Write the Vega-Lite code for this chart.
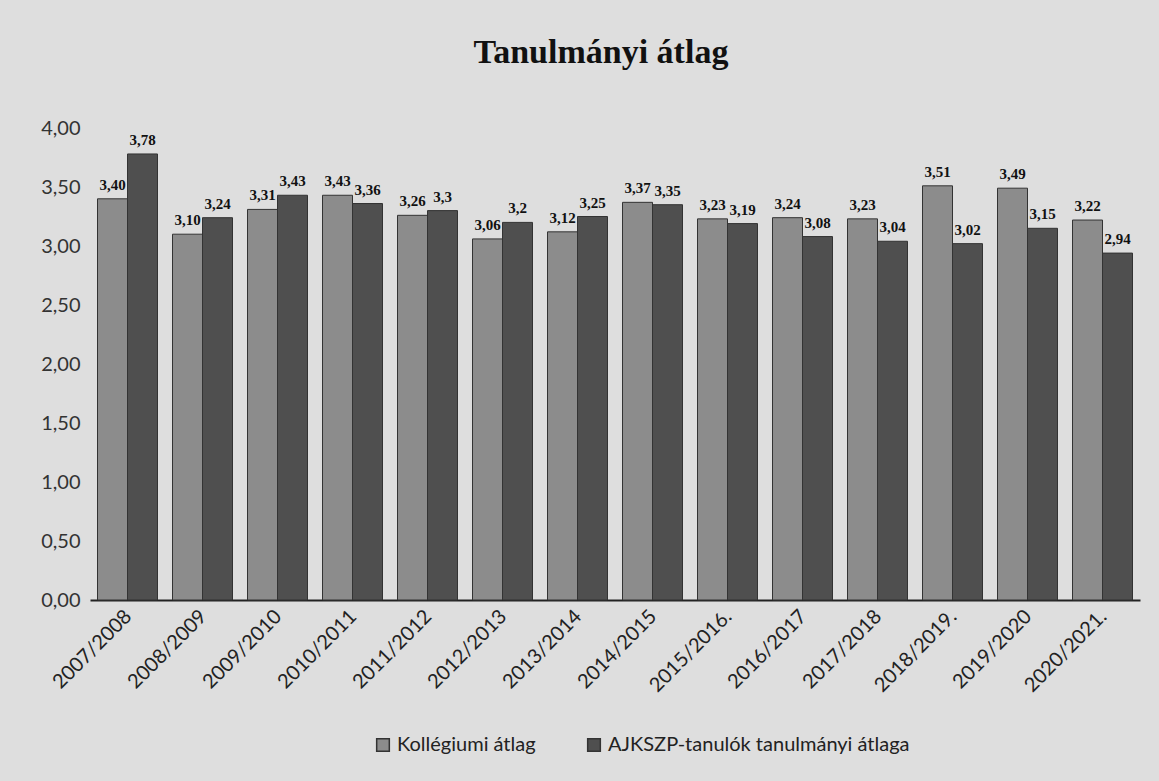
{
  "$schema": "https://vega.github.io/schema/vega-lite/v6.json",
  "width": 1050,
  "height": 472,
  "autosize": {"type": "none"},
  "padding": {"left": 90, "top": 128, "right": 19, "bottom": 181},
  "background": "#dedede",
  "title": {
    "text": "Tanulmányi átlag",
    "font": "Liberation Serif",
    "fontSize": 34,
    "fontWeight": "bold",
    "color": "#111111",
    "anchor": "middle",
    "offset": 48,
    "dx": -14
  },
  "data": {
    "values": [
      {"ev": "2007/2008", "sorozat": "Kollégiumi átlag", "ertek": 3.40, "cimke": "3,40"},
      {"ev": "2007/2008", "sorozat": "AJKSZP-tanulók tanulmányi átlaga", "ertek": 3.78, "cimke": "3,78"},
      {"ev": "2008/2009", "sorozat": "Kollégiumi átlag", "ertek": 3.10, "cimke": "3,10"},
      {"ev": "2008/2009", "sorozat": "AJKSZP-tanulók tanulmányi átlaga", "ertek": 3.24, "cimke": "3,24"},
      {"ev": "2009/2010", "sorozat": "Kollégiumi átlag", "ertek": 3.31, "cimke": "3,31"},
      {"ev": "2009/2010", "sorozat": "AJKSZP-tanulók tanulmányi átlaga", "ertek": 3.43, "cimke": "3,43"},
      {"ev": "2010/2011", "sorozat": "Kollégiumi átlag", "ertek": 3.43, "cimke": "3,43"},
      {"ev": "2010/2011", "sorozat": "AJKSZP-tanulók tanulmányi átlaga", "ertek": 3.36, "cimke": "3,36"},
      {"ev": "2011/2012", "sorozat": "Kollégiumi átlag", "ertek": 3.26, "cimke": "3,26"},
      {"ev": "2011/2012", "sorozat": "AJKSZP-tanulók tanulmányi átlaga", "ertek": 3.30, "cimke": "3,3"},
      {"ev": "2012/2013", "sorozat": "Kollégiumi átlag", "ertek": 3.06, "cimke": "3,06"},
      {"ev": "2012/2013", "sorozat": "AJKSZP-tanulók tanulmányi átlaga", "ertek": 3.20, "cimke": "3,2"},
      {"ev": "2013/2014", "sorozat": "Kollégiumi átlag", "ertek": 3.12, "cimke": "3,12"},
      {"ev": "2013/2014", "sorozat": "AJKSZP-tanulók tanulmányi átlaga", "ertek": 3.25, "cimke": "3,25"},
      {"ev": "2014/2015", "sorozat": "Kollégiumi átlag", "ertek": 3.37, "cimke": "3,37"},
      {"ev": "2014/2015", "sorozat": "AJKSZP-tanulók tanulmányi átlaga", "ertek": 3.35, "cimke": "3,35"},
      {"ev": "2015/2016.", "sorozat": "Kollégiumi átlag", "ertek": 3.23, "cimke": "3,23"},
      {"ev": "2015/2016.", "sorozat": "AJKSZP-tanulók tanulmányi átlaga", "ertek": 3.19, "cimke": "3,19"},
      {"ev": "2016/2017", "sorozat": "Kollégiumi átlag", "ertek": 3.24, "cimke": "3,24"},
      {"ev": "2016/2017", "sorozat": "AJKSZP-tanulók tanulmányi átlaga", "ertek": 3.08, "cimke": "3,08"},
      {"ev": "2017/2018", "sorozat": "Kollégiumi átlag", "ertek": 3.23, "cimke": "3,23"},
      {"ev": "2017/2018", "sorozat": "AJKSZP-tanulók tanulmányi átlaga", "ertek": 3.04, "cimke": "3,04"},
      {"ev": "2018/2019.", "sorozat": "Kollégiumi átlag", "ertek": 3.51, "cimke": "3,51"},
      {"ev": "2018/2019.", "sorozat": "AJKSZP-tanulók tanulmányi átlaga", "ertek": 3.02, "cimke": "3,02"},
      {"ev": "2019/2020", "sorozat": "Kollégiumi átlag", "ertek": 3.49, "cimke": "3,49"},
      {"ev": "2019/2020", "sorozat": "AJKSZP-tanulók tanulmányi átlaga", "ertek": 3.15, "cimke": "3,15"},
      {"ev": "2020/2021.", "sorozat": "Kollégiumi átlag", "ertek": 3.22, "cimke": "3,22"},
      {"ev": "2020/2021.", "sorozat": "AJKSZP-tanulók tanulmányi átlaga", "ertek": 2.94, "cimke": "2,94"}
    ]
  },
  "encoding": {
    "x": {
      "field": "ev",
      "type": "nominal",
      "sort": null,
      "scale": {"paddingInner": 0.2, "paddingOuter": 0.1},
      "axis": {
        "title": null,
        "labelAngle": -45,
        "labelFont": "Lato",
        "labelFontSize": 20,
        "labelColor": "#222222",
        "labelPadding": 6,
        "labelOffset": -6,
        "ticks": false,
        "domainColor": "#222222",
        "domainWidth": 2
      }
    },
    "xOffset": {
      "field": "sorozat",
      "type": "nominal",
      "sort": ["Kollégiumi átlag", "AJKSZP-tanulók tanulmányi átlaga"]
    },
    "y": {
      "field": "ertek",
      "type": "quantitative",
      "scale": {"domain": [0, 4]},
      "axis": {
        "title": null,
        "values": [0, 0.5, 1, 1.5, 2, 2.5, 3, 3.5, 4],
        "labelExpr": "replace(format(datum.value, '.2f'), '.', ',')",
        "labelFont": "Lato",
        "labelFontSize": 20,
        "labelColor": "#333333",
        "labelPadding": 10,
        "grid": false,
        "ticks": false,
        "domain": false
      }
    }
  },
  "layer": [
    {
      "mark": {"type": "bar", "stroke": "#333333", "strokeWidth": 1},
      "encoding": {
        "color": {
          "field": "sorozat",
          "type": "nominal",
          "sort": ["Kollégiumi átlag", "AJKSZP-tanulók tanulmányi átlaga"],
          "scale": {"range": ["#8c8c8c", "#4f4f4f"]},
          "legend": {
            "title": null,
            "orient": "none",
            "direction": "horizontal",
            "legendX": 283,
            "legendY": 607,
            "symbolType": "square",
            "symbolSize": 160,
            "symbolStrokeColor": "#333333",
            "labelFont": "Lato",
            "labelFontSize": 20,
            "labelColor": "#222222",
            "columnPadding": 48,
            "labelLimit": 400
          }
        }
      }
    },
    {
      "mark": {
        "type": "text",
        "dy": -14,
        "font": "Liberation Serif",
        "fontWeight": "bold",
        "fontSize": 15,
        "color": "#111111"
      },
      "encoding": {
        "text": {"field": "cimke"}
      }
    }
  ],
  "config": {
    "view": {"stroke": null}
  }
}
